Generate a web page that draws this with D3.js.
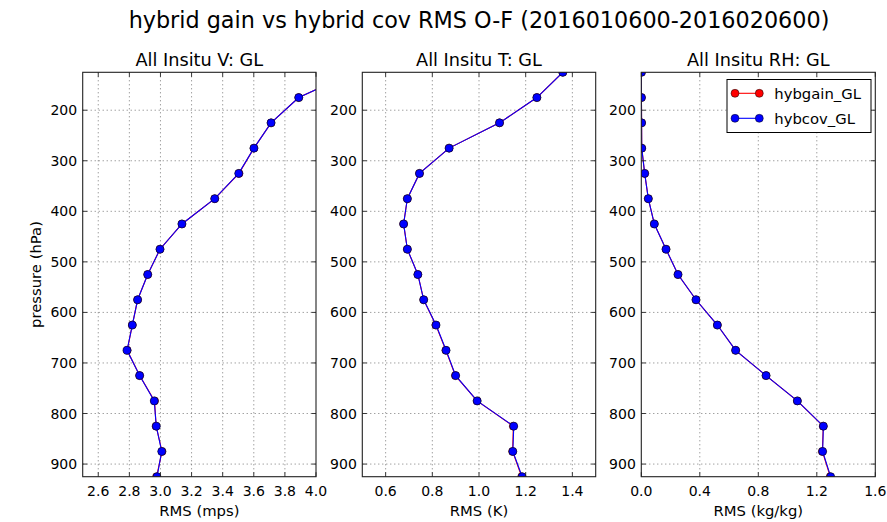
<!DOCTYPE html>
<html>
<head>
<meta charset="utf-8">
<script src="https://cdn.jsdelivr.net/npm/d3@7"></script>
<style>
  html, body { margin: 0; padding: 0; background: #fff; }
  svg { display: block; font-family: "DejaVu Sans", sans-serif; }
</style>
</head>
<body>
<svg id="chart" width="887" height="522"></svg>
<script>
// ---------------- DATA ----------------
const mainTitle = "hybrid gain vs hybrid cov RMS O-F (2016010600-2016020600)";
const levels = [125, 175, 225, 275, 325, 375, 425, 475, 525, 575, 625, 675, 725, 775, 825, 875, 925];
const seriesNames = ["hybgain_GL", "hybcov_GL"];

const vGain  = [4.24, 3.889, 3.711, 3.601, 3.505, 3.349, 3.138, 2.997, 2.918, 2.853, 2.819, 2.786, 2.866, 2.962, 2.972, 3.010, 2.975];
const vCov   = [4.24, 3.889, 3.711, 3.601, 3.503, 3.349, 3.138, 2.997, 2.918, 2.853, 2.819, 2.785, 2.866, 2.960, 2.973, 3.008, 2.978];

const tGain  = [1.359, 1.248, 1.088, 0.872, 0.745, 0.693, 0.677, 0.693, 0.738, 0.763, 0.815, 0.858, 0.899, 0.992, 1.147, 1.144, 1.183];
const tCov   = [1.359, 1.248, 1.088, 0.872, 0.745, 0.693, 0.677, 0.693, 0.738, 0.763, 0.816, 0.859, 0.900, 0.992, 1.149, 1.145, 1.185];

const rhGain = [0.001, 0.001, 0.002, 0.003, 0.023, 0.048, 0.089, 0.169, 0.251, 0.374, 0.520, 0.645, 0.853, 1.067, 1.244, 1.238, 1.292];
const rhCov  = [0.001, 0.001, 0.002, 0.003, 0.023, 0.048, 0.089, 0.169, 0.251, 0.374, 0.520, 0.645, 0.853, 1.067, 1.245, 1.240, 1.295];

const yTicks   = [200, 300, 400, 500, 600, 700, 800, 900];
const vTicks   = [2.6, 2.8, 3.0, 3.2, 3.4, 3.6, 3.8, 4.0];
const tTicks   = [0.6, 0.8, 1.0, 1.2, 1.4];
const rhTicks  = [0.0, 0.4, 0.8, 1.2, 1.6];

const panelTitles = ["All Insitu V: GL", "All Insitu T: GL", "All Insitu RH: GL"];
const xLabels = ["RMS (mps)", "RMS (K)", "RMS (kg/kg)"];
const yLabel = "pressure (hPa)";

// ---------------- LAYOUT ----------------
const svg = d3.select("#chart");
const axTop = 72.3, axBottom = 476.7;
const panels = [
  { x0: 82.7,  x1: 316.0, domain: [2.5, 4.0], ticks: vTicks,  gain: vGain,  cov: vCov,  fmt: d3.format(".1f") },
  { x0: 362.3, x1: 595.7, domain: [0.5, 1.5], ticks: tTicks,  gain: tGain,  cov: tCov,  fmt: d3.format(".1f") },
  { x0: 641.3, x1: 875.3, domain: [0.0, 1.6], ticks: rhTicks, gain: rhGain, cov: rhCov, fmt: d3.format(".1f") }
];
const colors = ["#ff0000", "#0000ff"];
const markerR = 4;

svg.append("text")
  .attr("x", 479).attr("y", 28.3)
  .attr("text-anchor", "middle")
  .attr("font-size", 22.3)
  .attr("fill", "#000")
  .text(mainTitle);

const y = d3.scaleLinear().domain([125, 925]).range([axTop, axBottom]);
const defs = svg.append("defs");

panels.forEach((p, i) => {
  const x = d3.scaleLinear().domain(p.domain).range([p.x0, p.x1]);
  const g = svg.append("g");
  const clipId = "clip" + i;
  defs.append("clipPath").attr("id", clipId)
    .append("rect").attr("x", p.x0).attr("y", axTop).attr("width", p.x1 - p.x0).attr("height", axBottom - axTop);

  // grid
  const grid = g.append("g").attr("stroke", "#000").attr("stroke-width", 0.7)
    .attr("stroke-dasharray", "1,3").attr("opacity", 0.75);
  p.ticks.forEach(t => {
    const px = x(t);
    if (px > p.x0 + 0.5 && px < p.x1 - 0.5)
      grid.append("line").attr("x1", px).attr("x2", px).attr("y1", axTop).attr("y2", axBottom);
  });
  yTicks.forEach(t => {
    grid.append("line").attr("x1", p.x0).attr("x2", p.x1).attr("y1", y(t)).attr("y2", y(t));
  });

  // series
  const plot = g.append("g").attr("clip-path", `url(#${clipId})`);
  [p.gain, p.cov].forEach((vals, si) => {
    const pts = levels.map((lv, k) => [vals[k], lv]);
    plot.append("path")
      .attr("d", d3.line().x(d => x(d[0])).y(d => y(d[1]))(pts))
      .attr("fill", "none").attr("stroke", colors[si]).attr("stroke-width", 1.1);
    plot.selectAll(null).data(pts).enter().append("circle")
      .attr("cx", d => x(d[0])).attr("cy", d => y(d[1])).attr("r", markerR)
      .attr("fill", colors[si]).attr("stroke", "#000").attr("stroke-width", 0.5);
  });

  // frame
  g.append("rect").attr("x", p.x0).attr("y", axTop).attr("width", p.x1 - p.x0).attr("height", axBottom - axTop)
    .attr("fill", "none").attr("stroke", "#222").attr("stroke-width", 1.1);

  // ticks (inward, all sides)
  const tk = g.append("g").attr("stroke", "#222").attr("stroke-width", 0.9);
  p.ticks.forEach(t => {
    const px = x(t);
    tk.append("line").attr("x1", px).attr("x2", px).attr("y1", axBottom).attr("y2", axBottom - 4.5);
    tk.append("line").attr("x1", px).attr("x2", px).attr("y1", axTop).attr("y2", axTop + 4.5);
  });
  yTicks.forEach(t => {
    tk.append("line").attr("x1", p.x0).attr("x2", p.x0 + 4.5).attr("y1", y(t)).attr("y2", y(t));
    tk.append("line").attr("x1", p.x1).attr("x2", p.x1 - 4.5).attr("y1", y(t)).attr("y2", y(t));
  });

  // tick labels
  p.ticks.forEach(t => {
    g.append("text").attr("x", x(t)).attr("y", 496).attr("text-anchor", "middle")
      .attr("font-size", 14).attr("fill", "#000").text(p.fmt(t));
  });
  yTicks.forEach(t => {
    g.append("text").attr("x", p.x0 - 5.5).attr("y", y(t)).attr("dy", "0.36em").attr("text-anchor", "end")
      .attr("font-size", 14).attr("fill", "#000").text(t);
  });

  // titles
  g.append("text").attr("x", (p.x0 + p.x1) / 2).attr("y", 66).attr("text-anchor", "middle")
    .attr("font-size", 17.7).attr("fill", "#000").text(panelTitles[i]);
  g.append("text").attr("x", (p.x0 + p.x1) / 2).attr("y", 515.5).attr("text-anchor", "middle")
    .attr("font-size", 14.8).attr("fill", "#000").text(xLabels[i]);
});

// y label
svg.append("text")
  .attr("transform", `translate(40.5, ${(axTop + axBottom) / 2}) rotate(-90)`)
  .attr("text-anchor", "middle").attr("font-size", 14.8).attr("fill", "#000")
  .text(yLabel);

// legend
const lg = svg.append("g");
lg.append("rect").attr("x", 727).attr("y", 79.5).attr("width", 144).attr("height", 53)
  .attr("fill", "#fff").attr("stroke", "#000").attr("stroke-width", 1);
seriesNames.forEach((name, i) => {
  const ly = 93.3 + i * 25;
  lg.append("line").attr("x1", 735).attr("x2", 759.3).attr("y1", ly).attr("y2", ly)
    .attr("stroke", colors[i]).attr("stroke-width", 1.1);
  [735, 759.3].forEach(cx => lg.append("circle").attr("cx", cx).attr("cy", ly).attr("r", markerR)
    .attr("fill", colors[i]).attr("stroke", "#000").attr("stroke-width", 0.5));
  lg.append("text").attr("x", 774.3).attr("y", ly).attr("dy", "0.36em")
    .attr("font-size", 14.8).attr("fill", "#000").text(name);
});
</script>
</body>
</html>
